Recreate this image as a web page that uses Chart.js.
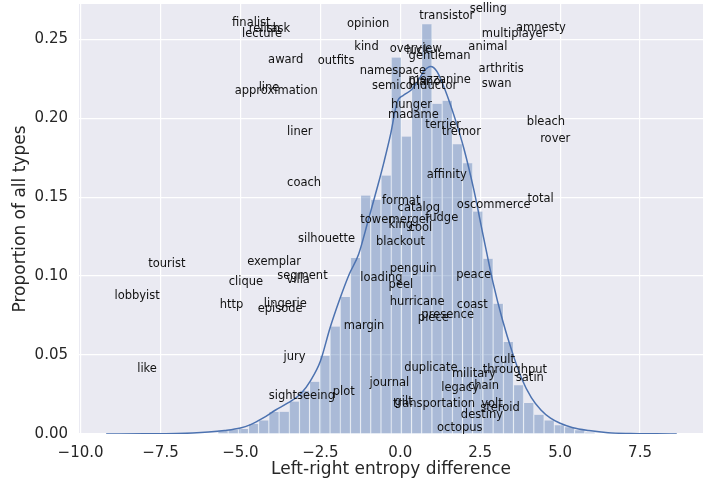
<!DOCTYPE html>
<html>
<head>
<meta charset="utf-8">
<script src="https://cdn.jsdelivr.net/npm/chart.js@4.4.1/dist/chart.umd.min.js"></script>
<style>
  body { margin: 0; background: #ffffff; }
</style>
</head>
<body>
<canvas id="chart" width="707" height="481"></canvas>
<script>
// histogram bins (centres) and heights
const binCentres = [-5.544, -5.225, -4.906, -4.588, -4.269, -3.950, -3.631, -3.313, -2.994, -2.675,
    -2.356, -2.037, -1.719, -1.400, -1.081, -0.762, -0.443, -0.125, 0.194, 0.513,
    0.832, 1.151, 1.469, 1.788, 2.107, 2.426, 2.745, 3.063, 3.382, 3.701,
    4.020, 4.339, 4.657, 4.976, 5.295, 5.614, 5.933];
const binHeights = [0.0020, 0.0027, 0.0032, 0.0063, 0.0086, 0.0140, 0.0141, 0.0206, 0.0274, 0.0331,
    0.0496, 0.0681, 0.0868, 0.1115, 0.1510, 0.1483, 0.1637, 0.2384, 0.1884, 0.2217,
    0.2595, 0.2091, 0.2110, 0.1835, 0.1715, 0.1409, 0.1110, 0.0825, 0.0582, 0.0308,
    0.0197, 0.0122, 0.0086, 0.0056, 0.0042, 0.0024, 0.0009];

// kde curve
const kdeX = [-9.2, -8.0, -7.0, -6.5, -6.0, -5.5, -5.0, -4.7, -4.3, -3.9, -3.5, -3.1, -2.8, -2.5, -2.2,
    -1.9, -1.6, -1.3, -1.0, -0.7, -0.5, -0.3, -0.1, 0.1, 0.35, 0.55, 0.75, 0.95, 1.15, 1.4,
    1.7, 2.0, 2.3, 2.6, 2.9, 3.2, 3.5, 3.8, 4.1, 4.4, 4.7, 5.0, 5.4, 5.9, 6.5, 7.2, 8.0, 8.65];
const kdeY = [0, 0.0001, 0.0003, 0.0006, 0.0012, 0.0022, 0.0038, 0.0058, 0.0100, 0.0152, 0.0198, 0.0258, 0.0340, 0.0460, 0.0670,
    0.0850, 0.1010, 0.1140, 0.1355, 0.1575, 0.1730, 0.1900, 0.2100, 0.2145, 0.2180, 0.2235, 0.2300, 0.2327, 0.2295, 0.2180,
    0.2005, 0.1800, 0.1547, 0.1250, 0.0960, 0.0720, 0.0520, 0.0350, 0.0230, 0.0152, 0.0100, 0.0068, 0.0040, 0.0022, 0.0008, 0.0003, 0.0001, 0];

// word labels (left edge, baseline)
const words = ["finalist", "relish", "task", "lecture", "award", "outfits", "line", "approximation", "liner", "coach",
    "opinion", "kind", "transistor", "selling", "amnesty", "multiplayer", "overview", "luck", "gentleman", "animal",
    "namespace", "arthritis", "mezzanine", "piano", "semiconductor", "swan", "hunger", "madame", "terrier", "tremor",
    "bleach", "rover", "affinity", "total", "oscommerce", "format", "catalog", "tower", "merger", "fudge",
    "king", "cool", "silhouette", "blackout", "tourist", "exemplar", "segment", "villa", "clique", "lobbyist",
    "http", "lingerie", "episode", "like", "jury", "sightseeing", "plot", "margin", "loading", "penguin",
    "peel", "peace", "hurricane", "coast", "presence", "piece", "cult", "duplicate", "throughput", "military",
    "satin", "journal", "chain", "legacy", "gilt", "transportation", "volt", "steroid", "destiny", "octopus"];
const wordX = [-5.26, -4.74, -4.20, -4.95, -4.135, -2.58, -4.43, -5.18, -3.54, -3.54,
    -1.67, -1.44, 0.59, 2.17, 3.62, 2.55, -0.33, 0.19, 0.26, 2.13,
    -1.27, 2.45, 0.26, 0.26, -0.885, 2.55, -0.29, -0.385, 0.78, 1.30,
    3.96, 4.375, 0.83, 3.98, 1.77, -0.57, -0.085, -1.25, -0.365, 0.78,
    -0.365, 0.26, -3.20, -0.76, -7.885, -4.79, -3.85, -3.56, -5.365, -8.94,
    -5.645, -4.27, -4.46, -8.23, -3.65, -4.115, -2.115, -1.77, -1.25, -0.33,
    -0.365, 1.75, -0.33, 1.77, 0.66, 0.55, 2.92, 0.125, 2.58, 1.615,
    3.615, -0.96, 2.115, 1.28, -0.18, -0.23, 2.53, 2.50, 1.895, 1.15];
const wordY = [0.2584, 0.2548, 0.2548, 0.2513, 0.2352, 0.2342, 0.2175, 0.2152, 0.1894, 0.1572,
    0.2580, 0.2432, 0.2627, 0.2675, 0.2553, 0.2516, 0.2418, 0.2407, 0.2375, 0.2432,
    0.2280, 0.2295, 0.2225, 0.2210, 0.2184, 0.2200, 0.2063, 0.2000, 0.1937, 0.1894,
    0.1958, 0.1852, 0.1624, 0.1468, 0.1434, 0.1456, 0.1409, 0.1339, 0.1339, 0.1346,
    0.1304, 0.1287, 0.1213, 0.1198, 0.1057, 0.1071, 0.0983, 0.0956, 0.0945, 0.0856,
    0.0797, 0.0804, 0.0770, 0.0392, 0.0470, 0.0223, 0.0244, 0.0666, 0.0972, 0.1029,
    0.0924, 0.0987, 0.0818, 0.0797, 0.0734, 0.0713, 0.0449, 0.0396, 0.0386, 0.0358,
    0.0333, 0.0301, 0.0285, 0.0270, 0.0185, 0.0168, 0.0168, 0.0143, 0.0101, 0.0021];

const xTicks = [-10, -7.5, -5, -2.5, 0, 2.5, 5, 7.5];
const yTicks = [0, 0.05, 0.10, 0.15, 0.20, 0.25];

const fontFamily = "'DejaVu Sans', sans-serif";

const plotBackground = {
    id: 'plotBackground',
    beforeDraw(chart) {
        const a = chart.chartArea;
        const ctx = chart.ctx;
        ctx.save();
        ctx.fillStyle = '#eaeaf2';
        ctx.fillRect(a.left, a.top, a.right - a.left, a.bottom - a.top);
        ctx.restore();
    }
};

const wordLabels = {
    id: 'wordLabels',
    afterDatasetsDraw(chart) {
        const ctx = chart.ctx;
        const xs = chart.scales.x;
        const ys = chart.scales.y;
        ctx.save();
        ctx.font = "11.5px " + fontFamily;
        ctx.fillStyle = '#111111';
        ctx.textAlign = 'left';
        ctx.textBaseline = 'alphabetic';
        for (let i = 0; i < words.length; i++) {
            ctx.fillText(words[i], xs.getPixelForValue(wordX[i]), ys.getPixelForValue(wordY[i]));
        }
        ctx.restore();
    }
};

new Chart(document.getElementById('chart'), {
    type: 'bar',
    data: {
        datasets: [{
            type: 'line',
            data: kdeX.map((x, i) => ({x: x, y: kdeY[i]})),
            borderColor: '#4c72b0',
            borderWidth: 1.5,
            pointRadius: 0,
            cubicInterpolationMode: 'monotone',
            fill: false,
            order: 0
        }, {
            type: 'bar',
            data: binCentres.map((x, i) => ({x: x, y: binHeights[i]})),
            backgroundColor: 'rgba(76,114,176,0.4)',
            borderColor: 'rgba(255,255,255,0.8)',
            borderWidth: {left: 0.6, right: 0.6, top: 0, bottom: 0},
            barPercentage: 1,
            categoryPercentage: 1,
            order: 1
        }]
    },
    options: {
        responsive: false,
        animation: false,
        layout: {padding: {left: 0, right: 4, top: 4, bottom: 0}},
        plugins: {
            legend: {display: false},
            tooltip: {enabled: false}
        },
        scales: {
            x: {
                type: 'linear',
                min: -10.05,
                max: 9.47,
                offset: false,
                border: {display: false},
                grid: {color: '#ffffff', lineWidth: 1.2, drawTicks: false, offset: false},
                afterBuildTicks: (s) => { s.ticks = xTicks.map(v => ({value: v})); },
                afterFit: (s) => { s.height = 47; s.paddingLeft = 0; s.paddingRight = 0; },
                ticks: {
                    padding: 10,
                    color: '#262626',
                    font: {family: fontFamily, size: 15},
                    maxRotation: 0,
                    callback: (v) => v.toFixed(1).replace('-', '\u2212')
                },
                title: {
                    display: true,
                    text: 'Left-right entropy difference',
                    color: '#262626',
                    font: {family: fontFamily, size: 17},
                    padding: {top: 0, bottom: 1}
                }
            },
            y: {
                type: 'linear',
                min: 0,
                max: 0.2723,
                border: {display: false},
                grid: {color: '#ffffff', lineWidth: 1.2, drawTicks: false},
                afterBuildTicks: (s) => { s.ticks = yTicks.map(v => ({value: v})); },
                afterFit: (s) => { s.width = 79; s.paddingTop = 0; s.paddingBottom = 0; },
                ticks: {
                    padding: 11,
                    color: '#262626',
                    font: {family: fontFamily, size: 15},
                    callback: (v) => v.toFixed(2)
                },
                title: {
                    display: true,
                    text: 'Proportion of all types',
                    color: '#262626',
                    font: {family: fontFamily, size: 17},
                    padding: {top: 10, bottom: 0}
                }
            }
        }
    },
    plugins: [plotBackground, wordLabels]
});
</script>
</body>
</html>
